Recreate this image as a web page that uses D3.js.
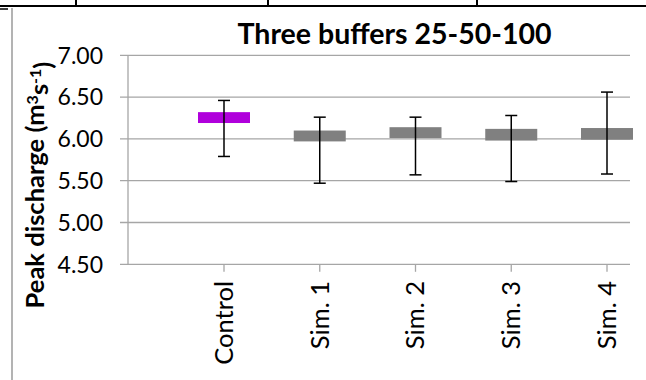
<!DOCTYPE html>
<html>
<head>
<meta charset="utf-8">
<script src="https://cdn.jsdelivr.net/npm/d3@7"></script>
<style>
  html, body { margin: 0; padding: 0; background: #fff; }
  svg { display: block; }
</style>
</head>
<body>
<svg id="chart" width="646" height="380"></svg>
<script>
const categories = ["Control", "Sim. 1", "Sim. 2", "Sim. 3", "Sim. 4"];
const boxTop     = [6.32, 6.10, 6.14, 6.12, 6.13];
const boxBottom  = [6.19, 5.97, 6.01, 5.98, 5.99];
const whiskerHigh = [6.46, 6.26, 6.26, 6.28, 6.56];
const whiskerLow  = [5.79, 5.47, 5.57, 5.49, 5.58];
const boxColors  = ["#b000dc", "#808080", "#808080", "#808080", "#808080"];
const yTicks = [4.5, 5.0, 5.5, 6.0, 6.5, 7.0];
const titleText = "Three buffers 25-50-100";

const svg = d3.select("#chart");
const FONT = "Lato, 'Open Sans', sans-serif";

// page decorations (table border above the chart frame)
svg.append("line").attr("x1", 0).attr("x2", 646).attr("y1", 6).attr("y2", 6)
  .attr("stroke", "#000").attr("stroke-width", 2);
[76, 268, 477].forEach(x => svg.append("line").attr("x1", x).attr("x2", x)
  .attr("y1", 0).attr("y2", 6).attr("stroke", "#000").attr("stroke-width", 2));
svg.append("line").attr("x1", 0).attr("x2", 8).attr("y1", 9).attr("y2", 9)
  .attr("stroke", "#000").attr("stroke-width", 1.5);
svg.append("line").attr("x1", 12).attr("x2", 12).attr("y1", 8).attr("y2", 380)
  .attr("stroke", "#b3b3b3").attr("stroke-width", 2);

const plotLeft = 128, plotRight = 630;
const y = d3.scaleLinear().domain([4.5, 7]).range([264.3, 55.3]);
const x = d3.scalePoint().domain(categories).range([224, 607]);

// gridlines
svg.append("g").selectAll("line").data(yTicks).join("line")
  .attr("x1", 120).attr("x2", plotRight)
  .attr("y1", d => y(d)).attr("y2", d => y(d))
  .attr("stroke", "#a6a6a6").attr("stroke-width", 1.3);

// y axis line
svg.append("line").attr("x1", plotLeft).attr("x2", plotLeft)
  .attr("y1", y(7)).attr("y2", y(4.5)).attr("stroke", "#a6a6a6").attr("stroke-width", 1.3);

// y tick labels
svg.append("g").selectAll("text").data(yTicks).join("text")
  .attr("x", 103).attr("y", d => y(d)).attr("dy", "0.36em")
  .attr("text-anchor", "end")
  .attr("font-family", FONT).attr("font-size", 23).attr("fill", "#000")
  .text(d => d3.format(".2f")(d));

// x ticks
svg.append("g").selectAll("line").data(categories).join("line")
  .attr("x1", d => x(d)).attr("x2", d => x(d))
  .attr("y1", y(4.5)).attr("y2", y(4.5) + 7.5)
  .attr("stroke", "#a6a6a6").attr("stroke-width", 1.3);

// x labels
svg.append("g").selectAll("text").data(categories).join("text")
  .attr("transform", d => `translate(${x(d)},281) rotate(-90)`)
  .attr("text-anchor", "end").attr("dy", "0.35em")
  .attr("font-family", FONT).attr("font-size", 25.5).attr("fill", "#000")
  .text(d => d);

// boxes
const boxW = 52;
svg.append("g").selectAll("rect").data(categories).join("rect")
  .attr("x", d => x(d) - boxW / 2)
  .attr("y", (d, i) => y(boxTop[i]))
  .attr("width", boxW)
  .attr("height", (d, i) => y(boxBottom[i]) - y(boxTop[i]))
  .attr("fill", (d, i) => boxColors[i]);

// whiskers
const capW = 12;
const wg = svg.append("g").attr("stroke", "#000").attr("stroke-width", 1.5);
wg.selectAll("line.v").data(categories).join("line").attr("class", "v")
  .attr("x1", d => x(d)).attr("x2", d => x(d))
  .attr("y1", (d, i) => y(whiskerHigh[i])).attr("y2", (d, i) => y(whiskerLow[i]));
wg.selectAll("line.t").data(categories).join("line").attr("class", "t")
  .attr("x1", d => x(d) - capW / 2).attr("x2", d => x(d) + capW / 2)
  .attr("y1", (d, i) => y(whiskerHigh[i])).attr("y2", (d, i) => y(whiskerHigh[i]));
wg.selectAll("line.b").data(categories).join("line").attr("class", "b")
  .attr("x1", d => x(d) - capW / 2).attr("x2", d => x(d) + capW / 2)
  .attr("y1", (d, i) => y(whiskerLow[i])).attr("y2", (d, i) => y(whiskerLow[i]));

// title
svg.append("text").attr("x", 394.5).attr("y", 44).attr("text-anchor", "middle")
  .attr("font-family", FONT).attr("font-weight", "bold").attr("font-size", 28.5)
  .attr("fill", "#000").text(titleText);

// y axis title
const yl = svg.append("text")
  .attr("transform", "translate(44,185) rotate(-90)")
  .attr("text-anchor", "middle")
  .attr("font-family", FONT).attr("font-weight", "bold").attr("font-size", 25.5)
  .attr("fill", "#000");
yl.append("tspan").text("Peak discharge (m");
yl.append("tspan").attr("dy", "-0.4em").attr("font-size", 16).text("3");
yl.append("tspan").attr("dy", "0.4em").text("s");
yl.append("tspan").attr("dy", "-0.4em").attr("font-size", 16).text("-1");
yl.append("tspan").attr("dy", "0.4em").text(")");
</script>
</body>
</html>
